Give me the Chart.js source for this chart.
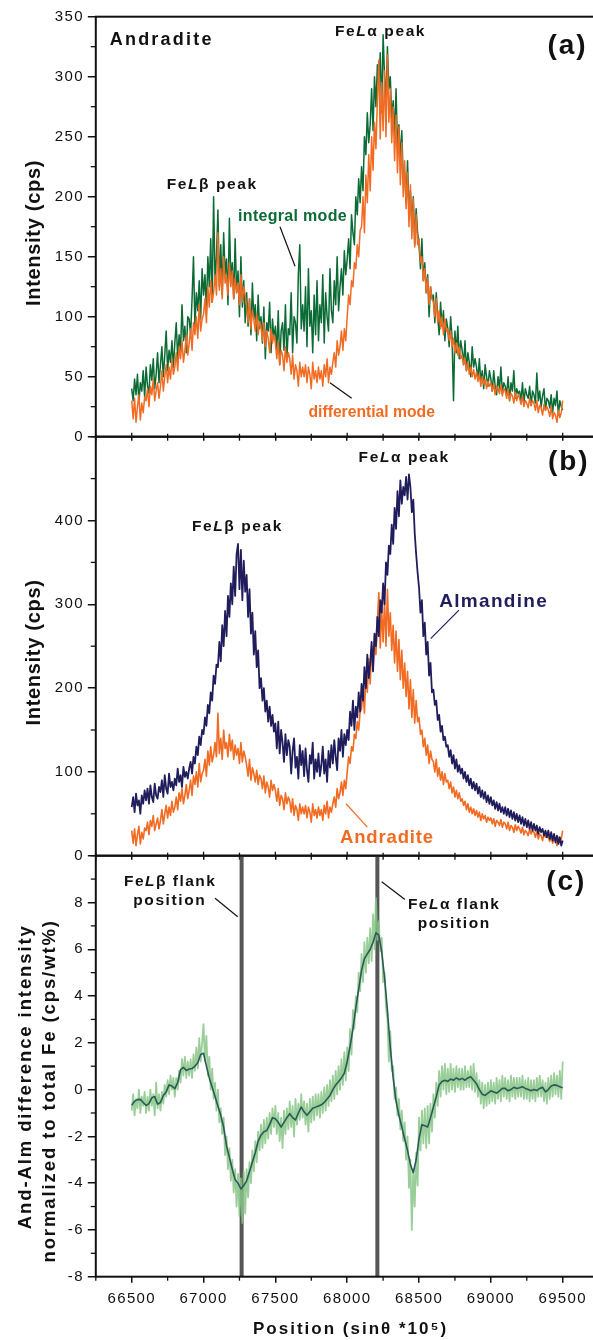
<!DOCTYPE html>
<html>
<head>
<meta charset="utf-8">
<script src="https://cdn.jsdelivr.net/npm/chart.js@4.4.1/dist/chart.umd.min.js"></script>
<style>
html,body{margin:0;padding:0;background:#fff;overflow:hidden;width:593px;height:1340px}
#wrap{position:relative;width:600px;height:1340px}
canvas{position:absolute;left:0;top:0}
.lbl{position:absolute;white-space:nowrap;font-family:'Liberation Sans',Arial,Helvetica,sans-serif;font-weight:bold;line-height:1;transform:translate(-50%,-50%);color:#111}
.lbl i{font-style:italic}
</style>
</head>
<body>
<div id="wrap">
<canvas id="ca" width="600" height="1340"></canvas>
<canvas id="cb" width="600" height="1340"></canvas>
<canvas id="cc" width="600" height="1340"></canvas>

<div class="lbl" style="left:161.7px;top:39.3px;font-size:18px;letter-spacing:2.2px">Andradite</div>
<div class="lbl" style="left:567.5px;top:45px;font-size:28px;letter-spacing:2px">(a)</div>
<div class="lbl" style="left:380.5px;top:30.7px;font-size:15.5px;letter-spacing:1.6px">Fe<i>L</i>α peak</div>
<div class="lbl" style="left:212.2px;top:184px;font-size:15.5px;letter-spacing:1.6px">Fe<i>L</i>β peak</div>
<div class="lbl" style="left:292.5px;top:216px;font-size:16px;letter-spacing:0.3px;color:#0b6b35">integral mode</div>
<div class="lbl" style="left:371.7px;top:411.7px;font-size:15.7px;color:#f26b22">differential mode</div>

<div class="lbl" style="left:237.5px;top:525.7px;font-size:15.5px;letter-spacing:1.6px">Fe<i>L</i>β peak</div>
<div class="lbl" style="left:404.2px;top:457.3px;font-size:15.5px;letter-spacing:1.6px">Fe<i>L</i>α peak</div>
<div class="lbl" style="left:568.8px;top:461px;font-size:28px;letter-spacing:2px">(b)</div>
<div class="lbl" style="left:493.7px;top:600px;font-size:19px;letter-spacing:1.3px;color:#201d5c">Almandine</div>
<div class="lbl" style="left:387px;top:836.7px;font-size:18.5px;letter-spacing:0.85px;color:#f26b22">Andradite</div>

<div class="lbl" style="left:170.2px;top:880.7px;font-size:15.5px;letter-spacing:1.5px">Fe<i>L</i>β flank</div>
<div class="lbl" style="left:169.8px;top:900px;font-size:15.5px;letter-spacing:1.6px">position</div>
<div class="lbl" style="left:566.3px;top:881px;font-size:28px;letter-spacing:2px">(c)</div>
<div class="lbl" style="left:454.2px;top:904.3px;font-size:15.5px;letter-spacing:1.5px">Fe<i>L</i>α flank</div>
<div class="lbl" style="left:454.3px;top:923.3px;font-size:15.5px;letter-spacing:1.6px">position</div>
</div>

<script>
// ---------------- data ----------------
const positionStart = 66500;   // first spectrometer position (sinθ*1e5)
const positionStep = 10;       // sampling step of the spectra
const smoothStep = 20;         // sampling step of the smoothed difference curve
const xTickValues = [66500, 67000, 67500, 68000, 68500, 69000, 69500];
const yTicksA = [0, 50, 100, 150, 200, 250, 300, 350];
const yTicksB = [0, 100, 200, 300, 400];
const yTicksC = [-8, -6, -4, -2, 0, 2, 4, 6, 8];
const flankPositions = [67265, 68210];

// Panel (a): andradite, integral mode (cps)
const integralMode = [
40,30,48,35,52,28,45,38,55,33,
58,42,36,60,47,65,40,52,70,45,
60,75,50,68,88,55,72,62,80,58,
78,95,65,85,72,110,80,92,70,100,
98,85,115,150,92,120,105,130,98,140,
118,135,105,150,125,165,112,200,130,150,
189,125,160,118,170,135,148,110,182,130,
145,115,165,120,138,100,150,108,130,95,
120,92,115,85,128,98,110,80,118,90,
100,78,108,65,95,88,112,70,98,82,
92,70,105,60,88,95,72,110,65,90,
85,120,70,100,95,78,136,160,90,110,
88,125,75,140,92,105,70,118,85,130,
80,110,95,135,78,120,100,88,140,105,
95,130,110,150,105,125,140,118,155,135,
148,165,140,185,170,160,200,185,215,195,
225,205,250,235,270,245,260,290,255,300,
275,310,290,320,270,335,300,280,325,290,
300,265,280,250,290,240,260,230,255,215,
220,195,230,185,205,175,200,160,190,170,
160,140,165,130,145,120,135,100,125,115,
118,95,120,100,85,112,92,105,80,98,
90,75,100,82,30,88,70,92,65,80,
72,60,80,55,70,62,50,75,58,65,
58,48,65,45,55,40,60,50,42,55,
48,38,55,42,35,50,40,58,36,45,
42,35,50,30,45,38,55,32,40,36,
38,30,45,28,40,35,32,42,26,38,
35,28,53,30,38,25,34,40,22,32,
30,24,35,20,32,26,38,18,30,25,
22];

// Panels (a) and (b): andradite, differential mode (cps)
const andraditeDifferential = [
30,15,32,12,25,35,14,28,20,33,
30,40,25,42,35,48,30,38,45,32,
42,55,38,50,60,45,58,48,65,52,
58,70,55,75,65,80,62,72,85,68,
78,90,72,95,85,100,82,110,88,98,
102,115,95,125,108,130,112,120,135,118,
170,122,140,115,150,128,135,118,145,125,
138,115,132,120,128,110,135,112,125,118,
108,95,115,90,105,98,88,102,85,96,
92,80,95,75,88,82,70,90,78,85,
78,65,80,60,72,68,55,75,62,70,
65,52,68,48,60,55,42,62,50,58,
50,60,45,58,52,40,62,48,55,45,
58,48,55,42,60,50,65,45,58,52,
62,70,58,80,68,75,88,72,90,80,
100,118,110,130,125,145,140,160,150,172,
175,200,170,218,195,235,205,250,222,262,
240,280,314,248,295,255,305,250,318,262,
290,245,275,230,268,220,258,210,245,200,
230,190,220,175,210,165,198,158,185,160,
165,145,150,130,140,120,132,110,125,115,
112,100,115,95,105,90,100,85,98,88,
90,80,88,75,82,70,78,68,75,65,
68,60,65,55,62,52,58,50,56,48,
54,46,52,42,50,44,48,40,46,42,
45,38,44,35,42,40,36,43,34,40,
38,32,40,30,36,34,28,37,30,35,
32,27,34,25,30,28,24,32,26,30,
28,22,30,20,26,24,18,27,22,25,
22,17,25,15,20,18,12,22,16,20,
30];

// Panel (b): almandine (cps)
const almandine = [
58,70,52,74,60,66,50,72,62,78,
66,80,62,84,70,64,86,72,68,82,
76,90,70,96,80,74,98,82,88,78,
92,84,104,88,96,82,106,94,100,92,
104,112,98,118,110,130,120,142,132,150,
145,165,155,180,170,195,185,215,205,228,
225,255,232,275,250,292,262,310,285,325,
300,345,310,360,372,318,365,305,352,315,
335,285,318,265,290,240,268,225,245,200,
212,185,200,172,185,160,178,155,168,148,
158,128,160,122,150,135,112,145,120,138,
130,98,125,140,105,118,92,132,108,125,
95,128,102,88,120,110,135,92,115,100,
122,95,108,130,98,115,88,125,105,132,
110,138,118,102,140,125,150,118,145,132,
150,138,172,155,185,150,178,165,195,172,
205,185,225,200,240,212,230,255,220,265,
250,285,262,305,290,325,300,350,335,370,
360,395,372,415,390,435,405,448,420,440,
430,452,425,455,440,410,425,385,360,338,
320,290,305,262,278,240,255,215,230,195,
198,180,185,162,168,148,155,138,142,130,
132,118,126,110,120,104,115,100,108,98,
104,92,100,88,96,84,92,80,88,78,
86,74,82,70,78,68,76,64,72,62,
70,60,66,56,64,54,62,52,58,50,
58,48,56,46,54,44,52,42,50,40,
48,38,46,36,44,34,42,32,40,30,
38,30,36,26,34,28,32,24,30,22,
30,20,28,18,26,16,24,14,22,12,
18];

// Panel (c): And-Alm difference normalized to total Fe (cps/wt%)
const differenceRaw = [
-0.9,-0.2,-1.1,-0.4,-0.8,0.0,-1.0,-0.3,-0.7,-0.1,
-1.0,-0.3,-0.9,0.0,-0.7,-0.2,-1.1,0.3,-0.8,-0.2,
-0.9,-0.1,-0.6,0.2,-0.3,0.4,-0.2,0.6,0.0,0.5,
-0.3,0.5,0.0,0.8,0.3,1.3,0.6,1.4,0.5,1.2,
0.6,1.3,0.5,1.5,0.8,1.8,0.9,2.2,1.2,2.0,
2.8,1.2,2.3,0.6,1.4,0.0,0.9,-0.4,0.3,-0.9,
0.0,-1.4,-0.8,-1.9,-1.2,-2.8,-2.0,-3.4,-2.5,-3.9,
-3.0,-4.4,-3.4,-5.0,-3.6,-5.4,-3.8,-5.7,-3.5,-5.3,
-3.4,-4.6,-3.1,-4.0,-2.6,-3.5,-2.2,-3.1,-1.8,-2.6,
-1.5,-2.5,-1.3,-2.3,-1.2,-2.1,-1.0,-1.9,-0.8,-1.6,
-0.7,-1.9,-1.0,-2.2,-1.2,-2.5,-0.9,-1.9,-0.8,-1.7,
-0.5,-1.6,-0.7,-2.0,-0.4,-1.5,-0.6,-1.3,-0.2,-1.2,
-0.5,-1.5,-0.6,-1.8,-0.4,-1.4,-0.3,-1.3,-0.2,-1.1,
-0.2,-1.2,-0.1,-1.0,0.1,-0.9,0.2,-0.7,0.4,-0.5,
0.6,-0.4,0.8,-0.2,1.0,0.0,1.3,0.2,1.6,0.4,
1.8,0.8,2.6,1.5,3.4,2.6,4.0,3.3,5.0,4.2,
5.8,4.6,6.3,5.0,6.5,5.4,6.9,5.5,7.5,6.0,
8.2,6.4,7.2,5.9,6.5,4.6,5.0,3.5,3.0,1.2,
2.5,0.8,1.0,-0.4,0.1,-1.1,-0.4,-1.7,-0.9,-2.2,
-1.4,-3.0,-2.0,-4.2,-3.0,-6.0,-3.4,-5.0,-2.7,-4.1,
-1.2,-2.6,-0.9,-2.3,-0.8,-2.5,-0.7,-2.3,-0.6,-1.8,
-0.2,-1.2,0.3,-0.7,0.8,-0.3,1.0,0.0,1.1,-0.2,
0.9,-0.1,1.1,0.0,0.9,-0.1,1.0,0.1,0.9,0.0,
0.9,0.0,1.0,0.1,0.8,0.1,1.0,0.0,1.1,-0.1,
0.7,-0.3,0.4,-0.6,0.3,-0.8,0.2,-0.7,0.3,-0.6,
0.4,-0.5,0.3,-0.6,0.5,-0.4,0.4,-0.5,0.6,-0.3,
0.5,-0.4,0.4,-0.5,0.6,-0.3,0.5,-0.4,0.5,-0.3,
0.5,-0.3,0.6,-0.4,0.4,-0.4,0.5,-0.5,0.4,-0.4,
0.4,-0.5,0.5,-0.3,0.6,-0.3,0.4,-0.5,0.3,-0.6,
0.5,-0.4,0.6,-0.3,0.7,-0.2,0.6,-0.3,0.8,-0.4,
1.2];

const differenceSmoothed = [
-0.67,-0.5,-0.43,-0.42,-0.55,-0.68,-0.6,-0.35,-0.3,-0.62,
-0.55,-0.25,-0.1,0.2,0.15,0.04,0.3,0.85,0.95,0.82,
0.88,0.9,1.0,1.15,1.5,1.55,1.0,0.5,0.1,-0.3,
-0.7,-1.1,-1.6,-2.4,-2.9,-3.4,-3.85,-4.0,-4.25,-4.1,
-3.9,-3.5,-3.1,-2.7,-2.2,-1.95,-1.8,-1.75,-1.5,-1.2,
-1.25,-1.4,-1.6,-1.4,-1.2,-1.03,-1.2,-1.3,-1.0,-0.75,
-0.95,-1.1,-0.95,-0.8,-0.75,-0.7,-0.65,-0.55,-0.4,-0.25,
0.0,0.2,0.35,0.5,0.7,1.2,1.85,2.6,3.5,4.3,
5.1,5.6,5.8,6.0,6.3,6.7,6.6,5.9,4.8,3.4,
1.8,0.5,-0.5,-1.1,-1.6,-2.1,-2.6,-3.2,-3.55,-3.0,
-2.1,-1.5,-1.55,-1.6,-1.2,-0.75,-0.3,0.2,0.35,0.4,
0.35,0.45,0.4,0.5,0.42,0.48,0.4,0.5,0.55,0.4,
0.25,0.0,-0.2,-0.25,-0.15,-0.05,-0.1,-0.15,-0.05,0.05,
0.05,-0.05,0.0,0.1,0.05,0.08,0.12,0.05,0.0,-0.05,
0.0,-0.04,0.05,0.1,-0.1,0.0,0.15,0.2,0.18,0.12,
0.08];

// leader lines for the annotations, in data coordinates [x1, y1, x2, y2]
const leadersA = [[67532, 175, 67637, 142], [67880, 45, 68031, 32]];
const leadersB = [[68778, 293, 68581, 259], [67992, 62, 68140, 34]];
const leadersC = [[67080, 8.18, 67238, 7.39], [68240, 8.89, 68402, 8.13]];

// ---------------- rendering ----------------
const FONT = "'Liberation Sans', Arial, Helvetica, sans-serif";
Chart.defaults.font.family = FONT;
Chart.defaults.color = '#111';

const GREEN = '#0b6b35', ORANGE = '#f26b22', NAVY = '#201d5c';
const LIGHTGREEN = 'rgba(135,198,135,0.85)', DARKTEAL = '#2b5a56', GRAY = '#565656';

const positions = integralMode.map((_, i) => positionStart + i * positionStep);
const smoothPositions = differenceSmoothed.map((_, i) => positionStart + i * smoothStep);
const xy = (xs, ys) => ys.map((v, i) => ({x: xs[i], y: v}));

const X_MIN = 66250, X_MAX = 69750, AXIS_W = 95.8, RIGHT_PAD = 1.4;

function decor(c) {
  return {
    id: 'decor',
    afterLayout(chart) {
      Object.values(chart.scales).forEach(s => {
        if (s._lsw) return;
        s._lsw = true;
        const ls = c.ls[s.id] || {tick: 0, title: 0};
        const dl = s.drawLabels, dt = s.drawTitle;
        s.drawLabels = function (area) { const g = this.ctx; g.save(); g.letterSpacing = ls.tick + 'px'; dl.call(this, area); g.restore(); };
        s.drawTitle = function () { const g = this.ctx; g.save(); g.letterSpacing = ls.title + 'px'; dt.call(this); g.restore(); };
      });
    },
    beforeDatasetsDraw(chart) {
      if (!c.vlines) return;
      const {ctx, chartArea: a, scales: {x}} = chart;
      ctx.save();
      ctx.strokeStyle = GRAY; ctx.lineWidth = 4;
      c.vlines.forEach(v => {
        const px = x.getPixelForValue(v);
        ctx.beginPath(); ctx.moveTo(px, a.top); ctx.lineTo(px, a.bottom); ctx.stroke();
      });
      ctx.restore();
    },
    afterDraw(chart) {
      const {ctx, chartArea: a, scales: {x, y}} = chart;
      ctx.save();
      // leader lines
      c.leaders.forEach((l, i) => {
        ctx.strokeStyle = c.leaderColors[i]; ctx.lineWidth = 1.2;
        ctx.beginPath();
        ctx.moveTo(x.getPixelForValue(l[0]), y.getPixelForValue(l[1]));
        ctx.lineTo(x.getPixelForValue(l[2]), y.getPixelForValue(l[3]));
        ctx.stroke();
      });
      ctx.strokeStyle = '#111';
      ctx.lineWidth = 1.3;
      // x minor ticks + crossing parts
      for (let v = X_MIN; v <= X_MAX; v += 250) {
        const px = x.getPixelForValue(v);
        const major = xTickValues.includes(v);
        ctx.beginPath();
        if (major) {
          if (c.cross) { ctx.moveTo(px, a.bottom - 4); ctx.lineTo(px, a.bottom); }
        } else {
          ctx.moveTo(px, a.bottom - (c.cross ? 3 : 0)); ctx.lineTo(px, a.bottom + 4);
        }
        ctx.stroke();
      }
      // y minor ticks
      for (let v = y.min; v <= y.max + 1e-9; v += c.yMinor) {
        if (c.yMajor.includes(Math.round(v * 1000) / 1000)) continue;
        const py = y.getPixelForValue(v);
        ctx.beginPath(); ctx.moveTo(a.left - 5, py); ctx.lineTo(a.left, py); ctx.stroke();
      }
      // frame
      ctx.lineWidth = 2;
      ctx.strokeRect(a.left, a.top, a.right - a.left, a.bottom - a.top);
      ctx.restore();
    }
  };
}

function xScale(extra) {
  return Object.assign({
    type: 'linear', min: X_MIN, max: X_MAX,
    afterBuildTicks: s => { s.ticks = xTickValues.map(v => ({value: v})); },
    afterFit: s => { s.height = 10; },
    grid: {drawOnChartArea: false, drawTicks: true, tickLength: 4, color: '#111', lineWidth: 1.5},
    border: {display: false},
    ticks: {display: false}
  }, extra || {});
}

function yScale(min, max, ticks, title, titleFont, titlePad) {
  return {
    type: 'linear', min, max,
    afterBuildTicks: s => { s.ticks = ticks.map(v => ({value: v})); },
    afterFit: s => { s.width = AXIS_W; },
    grid: {drawOnChartArea: false, drawTicks: true, tickLength: 8, color: '#111', lineWidth: 1.5},
    border: {display: false},
    ticks: {font: {size: 15}, padding: 4, color: '#111', autoSkip: false, callback: v => String(v)},
    title: {display: true, text: title, font: titleFont, color: '#111', padding: {top: titlePad, bottom: 0}}
  };
}

function lineDs(data, color, width) {
  return {data, borderColor: color, borderWidth: width, pointRadius: 0, tension: 0,
          borderJoinStyle: 'round', fill: false};
}

function baseOptions(top, bottom, xAxisH, scales) {
  return {
    responsive: false, animation: false, devicePixelRatio: 1, events: [],
    parsing: false, normalized: true,
    layout: {padding: {left: 0, right: RIGHT_PAD, top: top, bottom: 1340 - bottom - xAxisH}},
    plugins: {legend: {display: false}, tooltip: {enabled: false}},
    scales
  };
}

// Panel (a)
new Chart(document.getElementById('ca'), {
  type: 'line',
  data: {datasets: [
    lineDs(xy(positions, andraditeDifferential), ORANGE, 1.5),
    lineDs(xy(positions, integralMode), GREEN, 1.5)
  ]},
  options: baseOptions(16.7, 436.7, 10, {
    x: xScale(),
    y: yScale(0, 350, yTicksA, 'Intensity (cps)  ', {size: 20, weight: 'bold'}, 22.5)
  }),
  plugins: [decor({ls: {x: {tick: 1.3, title: 0}, y: {tick: 1.3, title: 0.7}}, leaders: leadersA,
                   leaderColors: ['#111', '#111'], cross: true, yMinor: 25, yMajor: yTicksA})]
});

// Panel (b)
new Chart(document.getElementById('cb'), {
  type: 'line',
  data: {datasets: [
    lineDs(xy(positions, almandine), NAVY, 1.8),
    lineDs(xy(positions, andraditeDifferential), ORANGE, 1.6)
  ]},
  options: baseOptions(436.7, 855.7, 10, {
    x: xScale(),
    y: yScale(0, 500, yTicksB, 'Intensity (cps)  ', {size: 20, weight: 'bold'}, 22.5)
  }),
  plugins: [decor({ls: {x: {tick: 1.3, title: 0}, y: {tick: 1.3, title: 0.7}}, leaders: leadersB,
                   leaderColors: [NAVY, ORANGE], cross: true, yMinor: 50, yMajor: yTicksB})]
});

// Panel (c)
new Chart(document.getElementById('cc'), {
  type: 'line',
  data: {datasets: [
    lineDs(xy(smoothPositions, differenceSmoothed), DARKTEAL, 1.6),
    lineDs(xy(positions, differenceRaw), LIGHTGREEN, 1.8)
  ]},
  options: baseOptions(855.7, 1276.7, 63.3, {
    x: xScale({
      afterFit: s => { s.height = 63.3; },
      grid: {drawOnChartArea: false, drawTicks: true, tickLength: 6, color: '#111', lineWidth: 1.5},
      ticks: {display: true, font: {size: 15}, padding: 7, color: '#111', autoSkip: false, maxRotation: 0,
              callback: v => String(v)},
      title: {display: true, text: ' Position (sinθ *10⁵)', font: {size: 17, weight: 'bold'}, color: '#111',
              padding: {top: 0, bottom: 0}}
    }),
    y: yScale(-8, 10, yTicksC,
      ['And-Alm difference intensity   ', 'normalized to total Fe (cps/wt%)       '],
      {size: 18.5, weight: 'bold', lineHeight: '24.5px'}, 13.5)
  }),
  plugins: [decor({ls: {x: {tick: 1.3, title: 2}, y: {tick: 1.3, title: 1.9}}, leaders: leadersC,
                   leaderColors: ['#111', '#111'], cross: false, yMinor: 1, yMajor: yTicksC,
                   vlines: flankPositions})]
});
</script>
</body>
</html>
